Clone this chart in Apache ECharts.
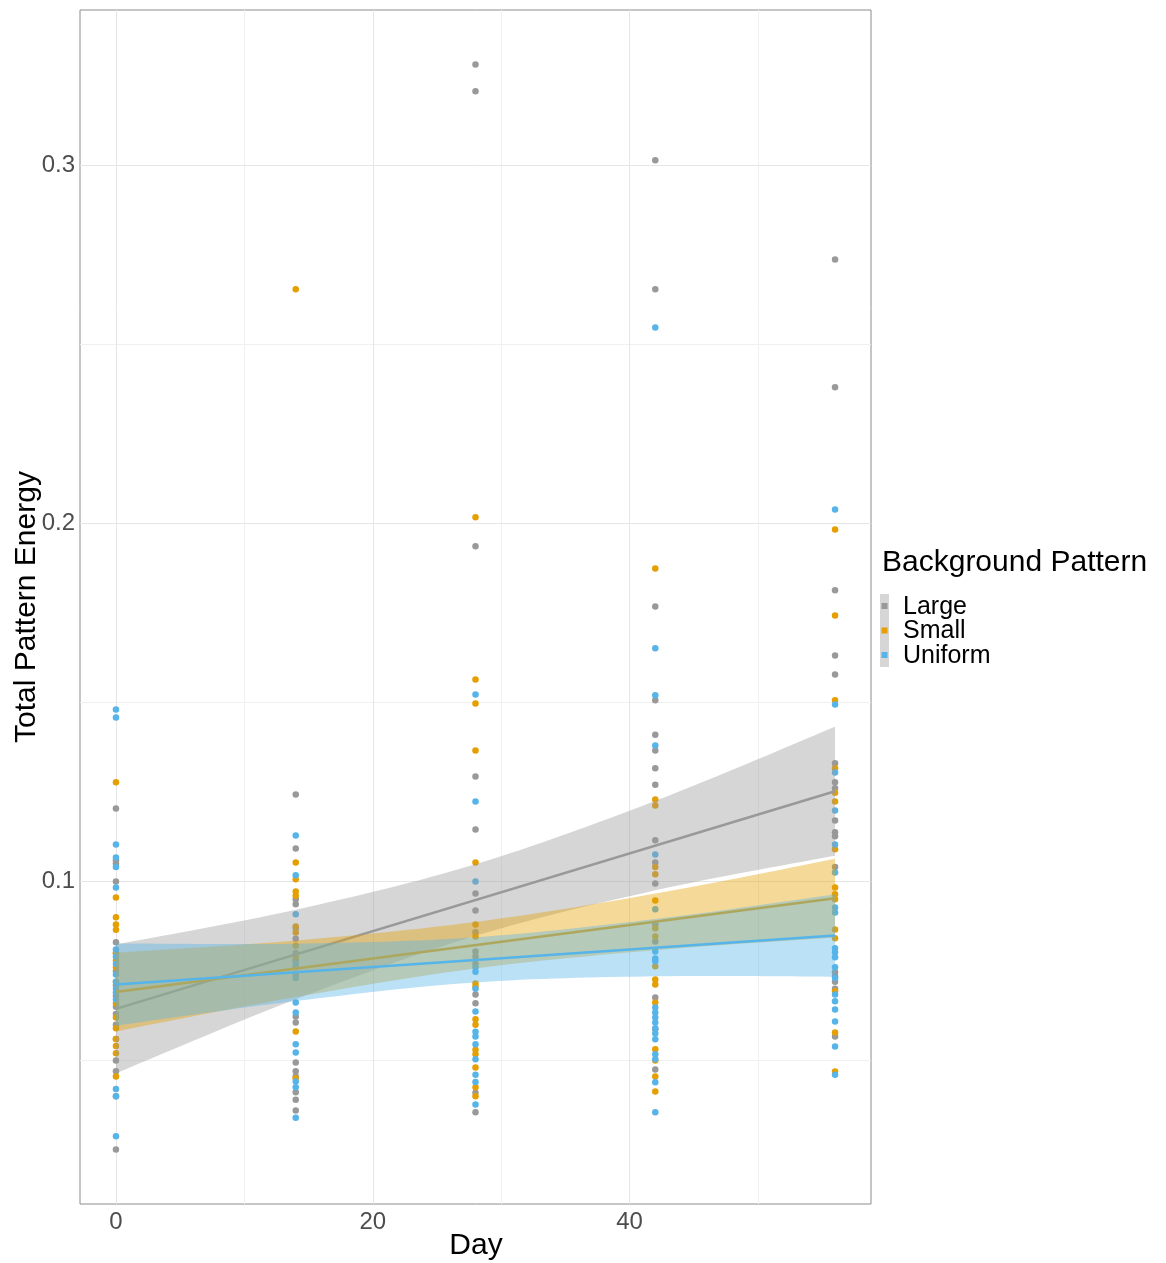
<!DOCTYPE html>
<html><head><meta charset="utf-8">
<script src="https://cdn.jsdelivr.net/npm/echarts/dist/echarts.min.js"></script>
<style>html,body{margin:0;padding:0;background:#fff}#c{width:1166px;height:1263px}</style>
</head><body><div id="c"></div>
<script>
// ---- categories / groups ----
const groups = ['Large', 'Small', 'Uniform'];
const colors = ['#999999', '#E69F00', '#56B4E9'];
const days = [0, 14, 28, 42, 56];

// ---- axis ticks ----
const xTicks = [0, 20, 40];
const yTicks = [0.1, 0.2, 0.3];
const xGridMajor = [0, 20, 40];
const xGridMinor = [10, 30, 50];
const yGridMajor = [0.1, 0.2, 0.3];
const yGridMinor = [0.05, 0.15, 0.25];

// ---- observed points (Total Pattern Energy) ----
const large_d0  = [0.1204, 0.1059, 0.1050, 0.1000, 0.0830, 0.0800, 0.0750, 0.0710, 0.0680, 0.0650, 0.0630, 0.0600, 0.0560, 0.0500, 0.0470, 0.0400, 0.0251];
const large_d14 = [0.1243, 0.1092, 0.0950, 0.0936, 0.0870, 0.0840, 0.0800, 0.0780, 0.0760, 0.0740, 0.0623, 0.0606, 0.0494, 0.0470, 0.0455, 0.0411, 0.0390, 0.0360];
const large_d28 = [0.3282, 0.3207, 0.1936, 0.1293, 0.1145, 0.0966, 0.0919, 0.0858, 0.0804, 0.0790, 0.0770, 0.0684, 0.0660, 0.0410, 0.0355];
const large_d42 = [0.3014, 0.2654, 0.1768, 0.1506, 0.1410, 0.1366, 0.1316, 0.1270, 0.1115, 0.1053, 0.0994, 0.0880, 0.0832, 0.0676, 0.0587, 0.0475];
const large_d56 = [0.2737, 0.2380, 0.1813, 0.1631, 0.1578, 0.1330, 0.1277, 0.1260, 0.1170, 0.1137, 0.1126, 0.1040, 0.0746, 0.0735, 0.0720, 0.0700, 0.0567];

const small_d0  = [0.1277, 0.0955, 0.0900, 0.0880, 0.0865, 0.0800, 0.0780, 0.0760, 0.0720, 0.0660, 0.0620, 0.0590, 0.0560, 0.0540, 0.0520, 0.0455];
const small_d14 = [0.2654, 0.1053, 0.1006, 0.0972, 0.0960, 0.0874, 0.0857, 0.0820, 0.0790, 0.0581, 0.0450];
const small_d28 = [0.2017, 0.1564, 0.1497, 0.1366, 0.1053, 0.0880, 0.0846, 0.0715, 0.0706, 0.0615, 0.0600, 0.0530, 0.0517, 0.0480, 0.0425, 0.0400];
const small_d42 = [0.1874, 0.1229, 0.1212, 0.1040, 0.1020, 0.0947, 0.0869, 0.0846, 0.0763, 0.0726, 0.0712, 0.0662, 0.0531, 0.0500, 0.0455, 0.0413];
const small_d56 = [0.1983, 0.1743, 0.1506, 0.1316, 0.1248, 0.1223, 0.1090, 0.0983, 0.0964, 0.0950, 0.0866, 0.0841, 0.0693, 0.0578, 0.0469];

const uniform_d0  = [0.1480, 0.1458, 0.1103, 0.1067, 0.1040, 0.0983, 0.0810, 0.0790, 0.0770, 0.0740, 0.0720, 0.0700, 0.0690, 0.0670, 0.0420, 0.0400, 0.0288];
const uniform_d14 = [0.1128, 0.1017, 0.0908, 0.0770, 0.0730, 0.0662, 0.0634, 0.0545, 0.0522, 0.0441, 0.0425, 0.0340];
const uniform_d28 = [0.1522, 0.1223, 0.1000, 0.0760, 0.0748, 0.0700, 0.0637, 0.0580, 0.0567, 0.0545, 0.0503, 0.0460, 0.0440, 0.0377];
const uniform_d42 = [0.2547, 0.1651, 0.1520, 0.1380, 0.1075, 0.0922, 0.0804, 0.0785, 0.0777, 0.0648, 0.0634, 0.0620, 0.0606, 0.0590, 0.0575, 0.0559, 0.0517, 0.0503, 0.0439, 0.0355];
const uniform_d56 = [0.2039, 0.1494, 0.1304, 0.1198, 0.1103, 0.1025, 0.0927, 0.0913, 0.0813, 0.0802, 0.0788, 0.0760, 0.0730, 0.0684, 0.0665, 0.0642, 0.0609, 0.0539, 0.0460];

// ---- fitted lines and confidence ribbons, read at days 0,14,28,42,56 ----
const largeFit   = [0.0644, 0.0796, 0.0948, 0.1100, 0.1252];
const largeLower = [0.0464, 0.0671, 0.0848, 0.0975, 0.1072];
const largeUpper = [0.0824, 0.0921, 0.1048, 0.1225, 0.1432];
const smallFit   = [0.0691, 0.0756, 0.0822, 0.0887, 0.0953];
const smallLower = [0.0581, 0.0677, 0.0757, 0.0808, 0.0843];
const smallUpper = [0.0801, 0.0835, 0.0887, 0.0966, 0.1063];
const uniformFit   = [0.0712, 0.0746, 0.0781, 0.0815, 0.0849];
const uniformLower = [0.0597, 0.0666, 0.0718, 0.0735, 0.0734];
const uniformUpper = [0.0827, 0.0826, 0.0844, 0.0895, 0.0964];

// ---- build ----
const FONT = '"Liberation Sans", Arial, sans-serif';
function pts(d, arr) { return arr.map(v => [d, v]); }
const pointSets = [
  [large_d0, large_d14, large_d28, large_d42, large_d56],
  [small_d0, small_d14, small_d28, small_d42, small_d56],
  [uniform_d0, uniform_d14, uniform_d28, uniform_d42, uniform_d56]
];
const ribbons = [
  {fit: largeFit, lower: largeLower, upper: largeUpper},
  {fit: smallFit, lower: smallLower, upper: smallUpper},
  {fit: uniformFit, lower: uniformLower, upper: uniformUpper}
];

// smooth a pixel polyline (Catmull-Rom) for drawing the ribbon edge
function smoothPixels(p) {
  const out = [];
  const n = p.length;
  for (let i = 0; i < n - 1; i++) {
    const p0 = p[Math.max(i - 1, 0)], p1 = p[i], p2 = p[i + 1], p3 = p[Math.min(i + 2, n - 1)];
    const c1 = [p1[0] + (p2[0] - p0[0]) / 6, p1[1] + (p2[1] - p0[1]) / 6];
    const c2 = [p2[0] - (p3[0] - p1[0]) / 6, p2[1] - (p3[1] - p1[1]) / 6];
    const steps = 16;
    for (let s = 0; s < steps; s++) {
      const t = s / steps, u = 1 - t;
      out.push([
        u*u*u*p1[0] + 3*u*u*t*c1[0] + 3*u*t*t*c2[0] + t*t*t*p2[0],
        u*u*u*p1[1] + 3*u*u*t*c1[1] + 3*u*t*t*c2[1] + t*t*t*p2[1]
      ]);
    }
  }
  out.push(p[n - 1]);
  return out;
}

const series = [];
groups.forEach((g, i) => {
  let data = [];
  pointSets[i].forEach((arr, k) => { data = data.concat(pts(days[k], arr)); });
  series.push({
    type: 'scatter', name: g, data: data, symbolSize: 6.5, z: 2, silent: true,
    itemStyle: {color: colors[i], opacity: 1}
  });
});

const gridLineData = []
  .concat(xGridMinor.map(v => ({xAxis: v, lineStyle: {color: '#f0f0f0', width: 1, type: 'solid'}})))
  .concat(yGridMinor.map(v => ({yAxis: v, lineStyle: {color: '#f0f0f0', width: 1, type: 'solid'}})))
  .concat(xGridMajor.map(v => ({xAxis: v, lineStyle: {color: '#e6e6e6', width: 1, type: 'solid'}})))
  .concat(yGridMajor.map(v => ({yAxis: v, lineStyle: {color: '#e6e6e6', width: 1, type: 'solid'}})));
series[0].markLine = {
  z: 1, silent: true, symbol: ['none', 'none'], label: {show: false},
  animation: false, data: gridLineData
};

groups.forEach((g, i) => {
  const r = ribbons[i];
  series.push({
    type: 'custom', name: g + ' band', silent: true, z: 3 + 2 * i,
    data: days.map((d, k) => [d, r.lower[k], r.upper[k]]),
    encode: {x: 0, y: [1, 2]},
    renderItem: function (params, api) {
      if (params.dataIndex !== 0) return null;
      const n = params.dataInsideLength || days.length;
      const up = [], lo = [];
      for (let k = 0; k < days.length; k++) {
        up.push(api.coord([days[k], r.upper[k]]));
        lo.push(api.coord([days[k], r.lower[k]]));
      }
      const top = smoothPixels(up);
      const bottom = smoothPixels(lo).reverse();
      return {
        type: 'polygon',
        shape: {points: top.concat(bottom)},
        style: {fill: colors[i], opacity: 0.4}
      };
    }
  });
  series.push({
    type: 'line', name: g + ' fit', silent: true,
    data: [[days[0], r.fit[0]], [days[days.length - 1], r.fit[r.fit.length - 1]]],
    symbol: 'none', lineStyle: {color: colors[i], width: 2.5}, z: 4 + 2 * i
  });
});

// legend drawn as graphics
const legendGraphics = [
  {type: 'text', left: 882, top: 548, style: {text: 'Background Pattern', font: '30px ' + FONT, fill: '#000'}},
  {type: 'rect', shape: {x: 880, y: 594, width: 9, height: 73}, style: {fill: '#d6d6d6'}}
];
groups.forEach((g, i) => {
  const cy = 606 + i * 24.5;
  legendGraphics.push({type: 'rect', shape: {x: 881.5, y: cy - 3, width: 6, height: 6}, style: {fill: colors[i]}});
  legendGraphics.push({type: 'text', x: 903, y: cy + 1, style: {text: g, font: '25px ' + FONT, fill: '#000', textVerticalAlign: 'middle', textAlign: 'left'}});
});

const option = {
  animation: false,
  backgroundColor: '#ffffff',
  grid: {left: 80, right: 295, top: 10, bottom: 59, show: true, borderColor: '#8c8c8c', borderWidth: 1, backgroundColor: '#ffffff'},
  xAxis: {
    type: 'value', min: -2.8, max: 58.8,
    axisLine: {show: false}, axisTick: {show: false}, splitLine: {show: false},
    axisLabel: {customValues: xTicks, fontSize: 24, color: '#4d4d4d', fontFamily: FONT, margin: 6}
  },
  yAxis: {
    type: 'value', min: 0.0099, max: 0.3434,
    axisLine: {show: false}, axisTick: {show: false}, splitLine: {show: false},
    axisLabel: {customValues: yTicks, fontSize: 24, color: '#4d4d4d', fontFamily: FONT, margin: 5,
      formatter: v => v.toFixed(1)}
  },
  graphic: [
    {type: 'text', x: 476, y: 1246, style: {text: 'Day', font: '30px ' + FONT, fill: '#000', textAlign: 'center', textVerticalAlign: 'middle'}},
    {type: 'text', x: 27, y: 607, rotation: Math.PI / 2, style: {text: 'Total Pattern Energy', font: '30px ' + FONT, fill: '#000', textAlign: 'center', textVerticalAlign: 'middle'}}
  ].concat(legendGraphics),
  series: series
};

const chart = echarts.init(document.getElementById('c'));
chart.setOption(option);
</script>
</body></html>
